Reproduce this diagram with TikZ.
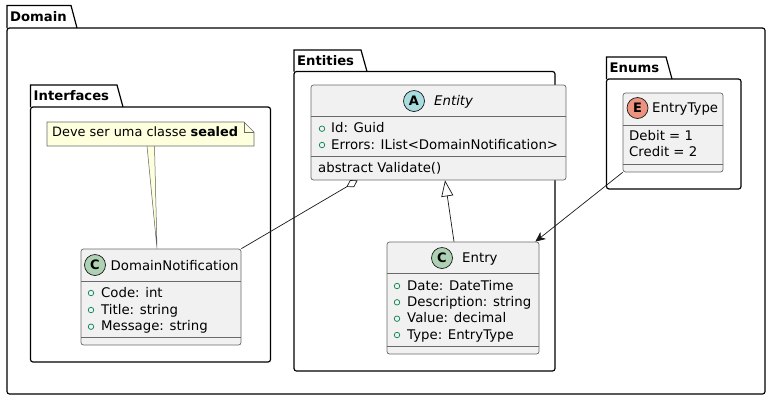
\documentclass[tikz,border=0pt]{standalone}
\usepackage{fontspec}
\setmainfont{DejaVu Sans}
\usetikzlibrary{arrows.meta,calc}
\definecolor{clsfill}{HTML}{F1F1F1}
\definecolor{clsline}{HTML}{181818}
\definecolor{notefill}{HTML}{FEFFDD}
\definecolor{cgreen}{HTML}{ADD1B2}
\definecolor{ablue}{HTML}{A9DCDF}
\definecolor{ered}{HTML}{EB937F}
\definecolor{visgreen}{HTML}{038048}
\newcommand\umlpkg[8]{%
  \draw[pkgline] (#1,#4) -- (#1,#2) -- (#3,#2) -- (#3+6,#4);
  \draw[pkgline,rounded corners=2.5pt] (#1,#4) -- (#5,#4) -- (#5,#6) -- (#1,#6) -- cycle;
  \node[pkglabel] (#8) at (#1+3,#2+15.5) {#7};}
\begin{document}
\begin{tikzpicture}[x=1pt,y=-1pt,font=\fontsize{13.3}{15}\selectfont,
  pkgline/.style={line width=1.2pt,draw=black},
  pkglabel/.style={inner sep=0,anchor=base west,font=\fontsize{13.2}{15}\selectfont\bfseries},
  cls/.style={draw=clsline!65,fill=clsfill,rounded corners=2.5pt,line width=0.7pt,inner sep=0},
  sep/.style={draw=clsline!65,line width=0.7pt},
  txt/.style={inner sep=0,anchor=base west},
  badge/.style={circle,draw=clsline,line width=0.7pt,inner sep=0,minimum size=21pt,font=\fontsize{13}{15}\selectfont\bfseries},
  vis/.style={circle,draw=visgreen,line width=0.7pt,inner sep=0,minimum size=5.5pt},
  conn/.style={draw=clsline,line width=0.7pt}]
\useasboundingbox (0,0) rectangle (770,400);

% packages
\umlpkg{7}{5.5}{71}{28}{765}{394}{Domain}{pDomain}
\umlpkg{30.5}{85}{117}{107}{270.5}{362}{Interfaces}{pInterfaces}
\umlpkg{294}{50}{361}{71.5}{555}{371}{Entities}{pEntities}
\umlpkg{606.5}{57}{666}{79}{741}{189}{Enums}{pEnums}

% Entity (abstract)
\node[cls,minimum width=255pt,minimum height=95pt] (entity) at (438.5,132.5) {};
\draw[sep] (311,116) -- (566,116);
\draw[sep] (311,156.5) -- (566,156.5);
\node[badge,fill=ablue] (entA) at (414,101) {A};
\node[txt,font=\fontsize{13.3}{15}\selectfont\itshape] (entName) at (434,105) {Entity};
\node[vis] (entv1) at (322,128.7) {};
\node[txt] (enta1) at (331,132.7) {Id: Guid};
\node[vis] (entv2) at (322,145) {};
\node[txt] (enta2) at (331,149) {Errors: IList<DomainNotification>};
\node[txt] (entm1) at (318,172.7) {abstract Validate()};

% Entry
\node[cls,minimum width=152pt,minimum height=112pt] (entry) at (463,298) {};
\draw[sep] (387,273.5) -- (539,273.5);
\draw[sep] (387,346) -- (539,346);
\node[badge,fill=cgreen] (entryC) at (442,258) {C};
\node[txt] (entryName) at (462,262.7) {Entry};
\node[vis] (ev1) at (397,286) {};
\node[txt] (ea1) at (407,290) {Date: DateTime};
\node[vis] (ev2) at (397,302.3) {};
\node[txt] (ea2) at (407,306.3) {Description: string};
\node[vis] (ev3) at (397,318.7) {};
\node[txt] (ea3) at (407,322.7) {Value: decimal};
\node[vis] (ev4) at (397,335) {};
\node[txt] (ea4) at (407,339) {Type: EntryType};

% DomainNotification
\node[cls,minimum width=160pt,minimum height=96pt] (dn) at (161,297) {};
\draw[sep] (81,281) -- (241,281);
\draw[sep] (81,337.5) -- (241,337.5);
\node[badge,fill=cgreen] (dnC) at (95,265) {C};
\node[txt] (dnName) at (110.5,270) {DomainNotification};
\node[vis] (dv1) at (91,293) {};
\node[txt] (da1) at (101,297) {Code: int};
\node[vis] (dv2) at (91,310) {};
\node[txt] (da2) at (101,314) {Title: string};
\node[vis] (dv3) at (91,326.7) {};
\node[txt] (da3) at (101,330.7) {Message: string};

% EntryType enum
\node[cls,minimum width=100pt,minimum height=79pt] (etype) at (673,132.5) {};
\draw[sep] (623,125) -- (723,125);
\draw[sep] (623,164.5) -- (723,164.5);
\node[badge,fill=ered] (etE) at (637.5,108) {E};
\node[txt] (etName) at (652,112.7) {EntryType};
\node[txt] (et1) at (629,140.7) {Debit = 1};
\node[txt] (et2) at (629,156.7) {Credit = 2};

% note
\coordinate (noteL) at (147,146);
\coordinate (noteR) at (154.5,146);
\fill[notefill] (noteL) -- ($(dn.north)+(-4,0)$) -- (noteR) -- cycle;
\draw[clsline!70,line width=0.5pt] (noteL) -- ($(dn.north)+(-4,0)$) -- (noteR);
\draw[fill=notefill,draw=clsline!65,line width=0.6pt] (47,122) -- (244,122) -- (254,132) -- (254,146) -- (47,146) -- cycle;
\draw[draw=clsline!65,line width=0.6pt] (244,122) -- (244,132) -- (254,132);
\node[txt,font=\fontsize{12.9}{14}\selectfont] (note) at (52,136.7) {Deve ser uma classe \textbf{sealed}};

% connectors
\draw[conn,-{Diamond[open,length=13pt,width=8pt,line width=0.7pt]}] (dn.north east) -- ($(entity.south west)+(47,0)$);
\draw[conn,-{Triangle[open,length=16pt,width=12pt,line width=0.7pt]}] ($(entry.north)+(-9,0)$) -- ($(entity.south)+(6.5,0)$);
\draw[conn,-{Stealth[length=10pt,width=9pt,inset=3pt]}] (etype.south west) -- ($(entry.north east)+(-4,0)$);
\end{tikzpicture}
\end{document}
